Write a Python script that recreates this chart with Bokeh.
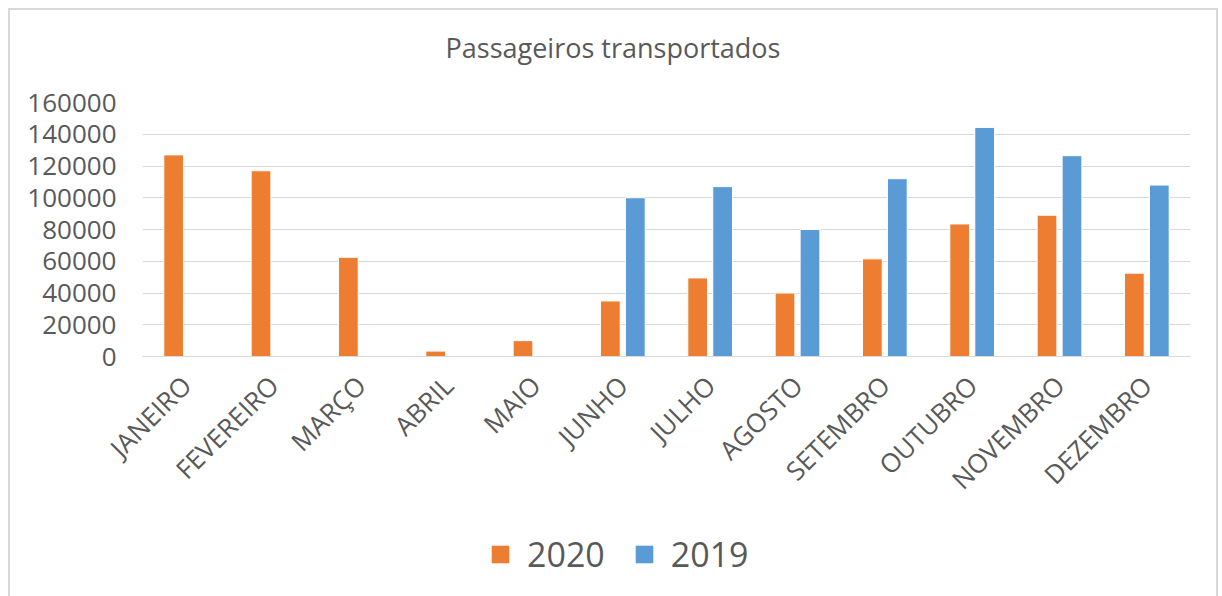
import math
from bokeh.plotting import figure
from bokeh.layouts import column
from bokeh.models import (FactorRange, Range1d, Legend, LegendItem, ColumnDataSource,
                          FixedTicker, NumeralTickFormatter, Div)
from bokeh.transform import dodge
from bokeh.embed import file_html
from bokeh.resources import INLINE

title_text = "Passageiros transportados"
months = ["JANEIRO", "FEVEREIRO", "MARÇO", "ABRIL", "MAIO", "JUNHO", "JULHO",
          "AGOSTO", "SETEMBRO", "OUTUBRO", "NOVEMBRO", "DEZEMBRO"]
v2020 = [127000, 117000, 62500, 3400, 10000, 35000, 49500, 40000, 61500, 83500, 89000, 52500]
v2019 = [None, None, None, None, None, 100000, 107000, 80000, 112000, 144300, 126500, 108000]
y_ticks = [0, 20000, 40000, 60000, 80000, 100000, 120000, 140000, 160000]
series_names = ["2020", "2019"]

TXT = "#595959"
GRID = "#d9d9d9"
ORANGE = "#ED7D31"
BLUE = "#5B9BD5"
FONT = "Open Sans"

src20 = ColumnDataSource(dict(month=months, val=v2020))
m19 = [m for m, v in zip(months, v2019) if v is not None]
s19 = [v for v in v2019 if v is not None]
src19 = ColumnDataSource(dict(month=m19, val=s19))

# title
title = Div(text=title_text, width=1206, height=72, margin=0,
            styles={"font-family": FONT, "font-size": "27px", "color": TXT,
                    "text-align": "center", "line-height": "76px", "white-space": "nowrap"})

p = figure(width=1206, height=430, x_range=FactorRange(*months), y_range=Range1d(0, 160000),
           output_backend="svg", toolbar_location=None,
           min_border_left=132, min_border_right=26, min_border_top=20, min_border_bottom=156)


def bars(fig, src, offset, color):
    return fig.vbar(x=dodge("month", offset, range=fig.x_range), top="val", width=0.226,
                    source=src, fill_color=color, line_color="white", line_width=1)


bars(p, src20, -0.143, ORANGE)
bars(p, src19, 0.143, BLUE)

p.outline_line_color = None
p.xgrid.grid_line_color = None
p.ygrid.grid_line_color = GRID
p.ygrid.grid_line_width = 1

p.yaxis.ticker = FixedTicker(ticks=y_ticks)
p.yaxis.formatter = NumeralTickFormatter(format="0")
p.yaxis.axis_line_color = None
p.yaxis.major_tick_line_color = None
p.yaxis.minor_tick_line_color = None
p.yaxis.major_tick_out = 0
p.yaxis.major_label_standoff = 26
p.yaxis.major_label_text_font = FONT
p.yaxis.major_label_text_font_size = "26px"
p.yaxis.major_label_text_color = TXT

p.xaxis.axis_line_color = GRID
p.xaxis.axis_line_width = 1
p.xaxis.major_tick_line_color = None
p.xaxis.major_tick_out = 0
p.xaxis.major_label_standoff = 24
p.xaxis.major_label_orientation = math.pi / 4
p.xaxis.major_label_text_font = FONT
p.xaxis.major_label_text_font_size = "26px"
p.xaxis.major_label_text_color = TXT

# legend strip: same data, drawn far outside its visible y-range; only the legend shows
lg = figure(width=1206, height=94, x_range=FactorRange(*months), y_range=Range1d(200000, 200001),
            output_backend="svg", toolbar_location=None, x_axis_type=None, y_axis_type=None,
            min_border_left=132, min_border_right=26, min_border_top=0, min_border_bottom=0)
lg.outline_line_color = None
lg.xgrid.grid_line_color = None
lg.ygrid.grid_line_color = None
l20 = bars(lg, src20, -0.143, ORANGE)
l19 = bars(lg, src19, 0.143, BLUE)
for r in (l20, l19):
    r.glyph.line_color = None

legend = Legend(items=[LegendItem(label=series_names[0], renderers=[l20]),
                       LegendItem(label=series_names[1], renderers=[l19])],
                orientation="horizontal", location=(347, 29))
legend.label_text_font = FONT
legend.label_text_font_size = "34px"
legend.label_text_color = TXT
legend.glyph_width = 22
legend.glyph_height = 22
legend.spacing = 28
legend.label_standoff = 16
legend.padding = 0
legend.margin = 0
legend.border_line_color = None
legend.background_fill_alpha = 0
lg.add_layout(legend, "center")

layout = column(title, p, lg, spacing=0,
                styles={"border": "2px solid #d9d9d9", "margin-left": "8px", "margin-top": "8px",
                        "background-color": "white"})

open("out.html", "w").write(file_html(layout, INLINE))
